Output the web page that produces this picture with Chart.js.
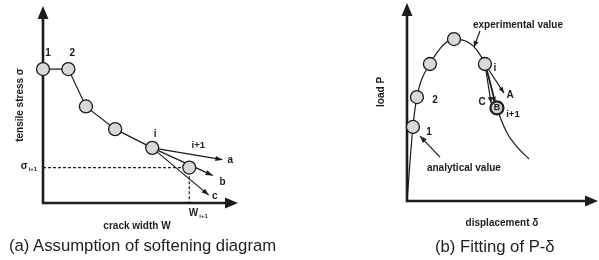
<!DOCTYPE html>
<html><head><meta charset="utf-8">
<script src="https://cdn.jsdelivr.net/npm/chart.js@4.4.1/dist/chart.umd.min.js"></script>
<style>
html,body{margin:0;padding:0;background:#fff;width:599px;height:260px;overflow:hidden;}
#wrap{position:relative;width:599px;height:260px;}
.pane{position:absolute;top:0;height:260px;}
#left{left:0;width:300px;}
#right{left:300px;width:299px;}
canvas{display:block;}
.cap{position:absolute;font-family:"Liberation Sans",Arial,Helvetica,sans-serif;font-size:16.7px;color:#1e1e1e;line-height:20px;white-space:nowrap;}
</style></head><body>
<div id="wrap">
<div class="pane" id="left"><canvas id="c1" width="300" height="260"></canvas></div>
<div class="pane" id="right"><canvas id="c2" width="299" height="260"></canvas></div>
<div class="cap" style="left:9px;top:236px">(a) Assumption of softening diagram</div>
<div class="cap" style="left:435px;top:237px">(b) Fitting of P-δ</div>
</div>
<script>
// ---------- (a) softening diagram (schematic units) ----------
const crackWidth    = [0, 1.3, 2.2, 3.7, 5.6];      // points 1, 2, ..., i
const tensileStress = [6.8, 6.8, 4.9, 3.75, 2.8];
const nextWidth  = 7.5;                              // point i+1
const nextStress = 1.8;
const trialNames = ['a', 'b', 'c'];                  // trial slopes from point i
const trialWidth  = [9.2, 8.7, 8.5];
const trialStress = [2.2, 1.4, 0.4];

// ---------- (b) load-displacement (schematic units) ----------
const curveDisp = [0, 0.31, 0.52, 1.2, 2.46, 4.08, 4.71, 5.24, 5.76, 6.39];   // experimental curve
const curveLoad = [0, 3.74, 5.25, 6.92, 8.18, 6.92, 4.7, 3.43, 2.73, 2.12];
const fitDisp = [0.31, 0.52, 1.2, 2.46, 4.08];      // analytical points 1, 2, ..., i
const fitLoad = [3.74, 5.25, 6.92, 8.18, 6.92];
const nextDisp = 4.71;                               // point i+1 (B)
const nextLoad = 4.7;
const trialNamesB = ['C', 'B', 'A'];
const trialDispB = [4.40, 4.61, 5.08];
const trialLoadB = [4.95, 4.95, 5.45];
// leader arrows for the two notes
const expPointer = {from: [3.82, 8.59], to: [3.51, 7.78]};
const anaPointer = {from: [1.73, 2.22], to: [0.68, 3.28]};

const INK = '#1c1c1c';
const FONT = '"Liberation Sans", Arial, Helvetica, sans-serif';
const FILL = '#d9d9d9';

const pts = (xs, ys) => xs.map((x, k) => ({x, y: ys[k]}));

function head(ctx, x1, y1, x2, y2, len, wid) {
  const a = Math.atan2(y2 - y1, x2 - x1), c = Math.cos(a), s = Math.sin(a);
  ctx.beginPath();
  ctx.moveTo(x2, y2);
  ctx.lineTo(x2 - len * c + wid * s, y2 - len * s - wid * c);
  ctx.lineTo(x2 - len * c - wid * s, y2 - len * s + wid * c);
  ctx.closePath();
  ctx.fill();
}

const figPlugin = {
  id: 'fig',
  beforeDatasetsDraw(chart) {
    const o = chart.options.plugins.fig, ctx = chart.ctx;
    const xs = chart.scales.x, ys = chart.scales.y;
    const x0 = xs.getPixelForValue(0), y0 = ys.getPixelForValue(0);
    const xe = xs.getPixelForValue(xs.max), ye = ys.getPixelForValue(ys.max);
    ctx.save();
    ctx.strokeStyle = INK; ctx.fillStyle = INK; ctx.lineWidth = o.axisWidth;
    ctx.beginPath();
    ctx.moveTo(x0, ye + 10); ctx.lineTo(x0, y0); ctx.lineTo(xe - 10, y0);
    ctx.stroke();
    head(ctx, x0, y0, x0, ye, 13, 5.5);
    head(ctx, x0, y0, xe, y0, 13, 5.5);
    ctx.restore();
  },
  afterDatasetsDraw(chart) {
    const ctx = chart.ctx;
    ctx.save();
    ctx.fillStyle = INK; ctx.strokeStyle = INK;
    chart.data.datasets.forEach((ds, i) => {
      if (!ds.arrow) return;
      const d = chart.getDatasetMeta(i).data;
      const a = d[d.length - 2], b = d[d.length - 1];
      head(ctx, a.x, a.y, b.x, b.y, ds.arrowLen || 7, ds.arrowWid || 2.6);
    });
    ctx.restore();
  },
  afterDraw(chart) {
    const o = chart.options.plugins.fig, ctx = chart.ctx;
    const xs = chart.scales.x, ys = chart.scales.y;
    ctx.save();
    ctx.fillStyle = INK;
    ctx.textAlign = 'center'; ctx.textBaseline = 'middle';
    o.labels.forEach(l => {
      const px = xs.getPixelForValue(l.x) + (l.dx || 0);
      const py = ys.getPixelForValue(l.y) + (l.dy || 0);
      ctx.save();
      ctx.translate(px, py);
      if (l.rot) ctx.rotate(l.rot);
      ctx.font = (l.weight || 'bold') + ' ' + (l.size || 10) + 'px ' + FONT;
      if (l.sub) {
        const w = ctx.measureText(l.text).width;
        ctx.font = 'bold 6px ' + FONT;
        const ws = ctx.measureText(l.sub).width;
        const start = -(w + ws + 1) / 2;
        ctx.textAlign = 'left';
        ctx.font = (l.weight || 'bold') + ' ' + (l.size || 10) + 'px ' + FONT;
        ctx.fillText(l.text, start, 0);
        ctx.font = 'bold 6px ' + FONT;
        ctx.fillText(l.sub, start + w + 1, 3);
      } else {
        ctx.fillText(l.text, 0, 0);
      }
      ctx.restore();
    });
    ctx.restore();
  }
};

function baseOptions(pad, labels) {
  return {
    responsive: false, animation: false, events: [],
    layout: {padding: pad, autoPadding: false},
    scales: {
      x: {type: 'linear', min: 0, max: 10, display: false},
      y: {type: 'linear', min: 0, max: 10, display: false}
    },
    plugins: {legend: {display: false}, tooltip: {enabled: false}, fig: {axisWidth: 2.6, labels}}
  };
}

const lineDs = (data, extra) => Object.assign({
  data, showLine: true, borderColor: INK, borderWidth: 1.2, pointRadius: 0, clip: false, order: 2
}, extra || {});

// ----- chart (a) -----
const iW = crackWidth[crackWidth.length - 1], iS = tensileStress[tensileStress.length - 1];
const dsA = [
  {data: pts(crackWidth, tensileStress).concat([{x: nextWidth, y: nextStress}]), showLine: false,
   pointRadius: 6.5, pointBackgroundColor: FILL, pointBorderColor: INK, pointBorderWidth: 1.3, clip: false, order: 0},
  lineDs(pts(crackWidth, tensileStress)),
  lineDs([{x: 0, y: nextStress}, {x: nextWidth, y: nextStress}, {x: nextWidth, y: 0}], {borderDash: [3, 2], order: 3})
];
trialNames.forEach((n, k) => dsA.push(lineDs([{x: iW, y: iS}, {x: trialWidth[k], y: trialStress[k]}], {arrow: true})));

const labelsA = [
  {text: '1', x: crackWidth[0], y: tensileStress[0], dx: 5, dy: -16},
  {text: '2', x: crackWidth[1], y: tensileStress[1], dx: 4, dy: -16},
  {text: 'i', x: iW, y: iS, dx: 3, dy: -14},
  {text: 'i+1', x: nextWidth, y: nextStress, dx: 9, dy: -22, size: 9.5},
  {text: 'a', x: trialWidth[0], y: trialStress[0], dx: 8, dy: 1},
  {text: 'b', x: trialWidth[1], y: trialStress[1], dx: 10, dy: 7},
  {text: 'c', x: trialWidth[2], y: trialStress[2], dx: 6, dy: 1},
  {text: 'σ', sub: 'i+1', x: 0, y: nextStress, dx: -14, dy: -1},
  {text: 'W', sub: 'i+1', x: nextWidth, y: 0, dx: 9, dy: 10},
  {text: 'crack width W', x: 4.82, y: -1.17},
  {text: 'tensile stress σ', x: -1.18, y: 4.97, rot: -Math.PI / 2}
];
new Chart(document.getElementById('c1'), {
  type: 'scatter',
  data: {datasets: dsA},
  options: baseOptions({left: 43, right: 62, top: 6, bottom: 57}, labelsA),
  plugins: [figPlugin]
});

// ----- chart (b) -----
const iD = fitDisp[fitDisp.length - 1], iP = fitLoad[fitLoad.length - 1];
const dsB = [
  {data: pts(fitDisp, fitLoad), showLine: false,
   pointRadius: 6.5, pointBackgroundColor: FILL, pointBorderColor: INK, pointBorderWidth: 1.3, clip: false, order: 0},
  {data: [{x: nextDisp, y: nextLoad}], showLine: false,
   pointRadius: 6.5, pointBackgroundColor: '#cfcfcf', pointBorderColor: INK, pointBorderWidth: 2.2, clip: false, order: 0},
  lineDs(pts(curveDisp, curveLoad), {cubicInterpolationMode: 'monotone'}),
  lineDs([{x: expPointer.from[0], y: expPointer.from[1]}, {x: expPointer.to[0], y: expPointer.to[1]}], {arrow: true, arrowLen: 6}),
  lineDs([{x: anaPointer.from[0], y: anaPointer.from[1]}, {x: anaPointer.to[0], y: anaPointer.to[1]}], {arrow: true, arrowLen: 7})
];
trialNamesB.forEach((n, k) => dsB.push(lineDs([{x: iD, y: iP}, {x: trialDispB[k], y: trialLoadB[k]}], {arrow: true, arrowLen: 6, arrowWid: 2.3})));

const labelsB = [
  {text: '1', x: fitDisp[0], y: fitLoad[0], dx: 16, dy: 5},
  {text: '2', x: fitDisp[1], y: fitLoad[1], dx: 18, dy: 3},
  {text: 'i', x: iD, y: iP, dx: 10, dy: 4},
  {text: 'i+1', x: nextDisp, y: nextLoad, dx: 16, dy: 6, size: 9.5},
  {text: 'B', x: nextDisp, y: nextLoad, dx: 0, dy: 0, size: 9},
  {text: 'C', x: trialDispB[0], y: trialLoadB[0], dx: -9, dy: -1},
  {text: 'A', x: trialDispB[2], y: trialLoadB[2], dx: 6, dy: 2},
  {text: 'experimental value', x: 5.81, y: 8.89},
  {text: 'analytical value', x: 2.98, y: 1.67},
  {text: 'displacement δ', x: 4.97, y: -1.11},
  {text: 'load P', x: -1.36, y: 5.51, rot: -Math.PI / 2}
];
new Chart(document.getElementById('c2'), {
  type: 'scatter',
  data: {datasets: dsB},
  options: baseOptions({left: 107, right: 1, top: 3, bottom: 59}, labelsB),
  plugins: [figPlugin]
});
</script>
</body></html>
